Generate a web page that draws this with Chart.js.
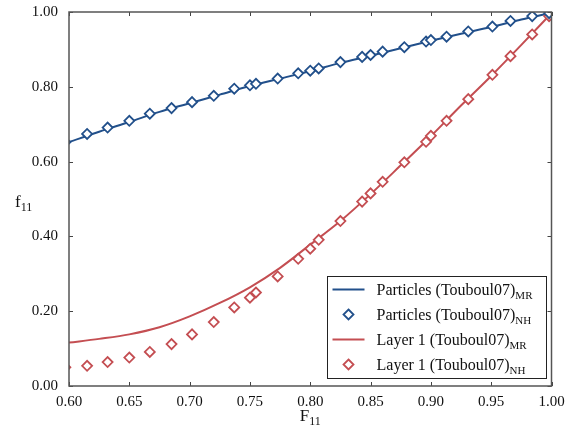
<!DOCTYPE html>
<html>
<head>
<meta charset="utf-8">
<script src="https://cdn.jsdelivr.net/npm/chart.js@4"></script>
<style>
  html, body { margin: 0; padding: 0; background: #fff; }
  canvas { display: block; }
</style>
</head>
<body>
<canvas id="chart" width="565" height="429"></canvas>
<script>
// F11 positions of the NH points (shared by both sets)
const nhF11 = [0.597, 0.615, 0.632, 0.650, 0.667, 0.685, 0.702, 0.720, 0.737, 0.750, 0.755, 0.773, 0.790, 0.800,
               0.807, 0.825, 0.843, 0.850, 0.860, 0.878, 0.896, 0.900, 0.913, 0.931, 0.951, 0.966, 0.984, 0.998]
const particlesNH = [0.652, 0.674, 0.691, 0.709, 0.728, 0.743, 0.759, 0.776, 0.795, 0.804, 0.808, 0.822, 0.836, 0.843,
                     0.849, 0.866, 0.880, 0.885, 0.894, 0.906, 0.921, 0.925, 0.934, 0.948, 0.961, 0.976, 0.989, 0.997]
const layer1NH = [0.050, 0.054, 0.064, 0.076, 0.091, 0.112, 0.138, 0.171, 0.210, 0.236, 0.250, 0.293, 0.340, 0.367,
                  0.391, 0.441, 0.493, 0.515, 0.546, 0.598, 0.653, 0.669, 0.709, 0.767, 0.832, 0.882, 0.940, 0.989]

// MR curves, read along F11
const mrF11 = [0.600, 0.625, 0.650, 0.675, 0.700, 0.725, 0.750, 0.775, 0.800, 0.825, 0.850, 0.875, 0.900, 0.925, 0.950, 0.975, 1.000]
const particlesMR = [0.652, 0.680, 0.706, 0.733, 0.756, 0.779, 0.802, 0.822, 0.842, 0.864, 0.883, 0.903, 0.923, 0.942, 0.960, 0.980, 0.998]
const layer1MR = [0.116, 0.126, 0.138, 0.157, 0.186, 0.222, 0.264, 0.316, 0.378, 0.441, 0.513, 0.590, 0.668, 0.750, 0.829, 0.912, 0.997]

const xTicks = [0.60, 0.65, 0.70, 0.75, 0.80, 0.85, 0.90, 0.95, 1.00]
const yTicks = [0.00, 0.20, 0.40, 0.60, 0.80, 1.00]

const blue = '#22508b'
const red = '#c44e52'
const serif = '"Liberation Serif", "DejaVu Serif", serif'

const toPoints = (xs, ys) => xs.map((x, i) => ({x: x, y: ys[i]}))

// main text followed by a subscript
function drawSub(ctx, main, sub, x, y, size, subSize, align) {
    ctx.font = size + 'px ' + serif
    let w1 = ctx.measureText(main).width
    ctx.font = subSize + 'px ' + serif
    let w2 = ctx.measureText(sub).width
    let start = align === 'center' ? x - (w1 + w2) / 2 : x
    ctx.textAlign = 'left'
    ctx.textBaseline = 'alphabetic'
    ctx.font = size + 'px ' + serif
    ctx.fillText(main, start, y)
    ctx.font = subSize + 'px ' + serif
    ctx.fillText(sub, start + w1, y + size * 0.25)
}

const legendItems = [
    {label: 'Particles (Touboul07)', sub: 'MR', color: blue, line: true},
    {label: 'Particles (Touboul07)', sub: 'NH', color: blue, line: false},
    {label: 'Layer 1 (Touboul07)', sub: 'MR', color: red, line: true},
    {label: 'Layer 1 (Touboul07)', sub: 'NH', color: red, line: false}
]

const framePlugin = {
    id: 'frame',
    afterDraw(chart) {
        const ctx = chart.ctx
        const a = chart.chartArea
        const xs = chart.scales.x
        const ys = chart.scales.y
        ctx.save()

        // inward ticks on all four sides
        ctx.strokeStyle = '#444'
        ctx.lineWidth = 1
        ctx.beginPath()
        xTicks.forEach(v => {
            let px = Math.round(xs.getPixelForValue(v)) + 0.5
            ctx.moveTo(px, a.bottom); ctx.lineTo(px, a.bottom - 4)
            ctx.moveTo(px, a.top); ctx.lineTo(px, a.top + 4)
        })
        yTicks.forEach(v => {
            let py = Math.round(ys.getPixelForValue(v)) + 0.5
            ctx.moveTo(a.left, py); ctx.lineTo(a.left + 4, py)
            ctx.moveTo(a.right, py); ctx.lineTo(a.right - 4, py)
        })
        ctx.stroke()

        // frame
        ctx.strokeStyle = '#555'
        ctx.lineWidth = 1.5
        ctx.strokeRect(a.left, a.top, a.right - a.left, a.bottom - a.top)

        // axis titles
        ctx.fillStyle = '#111'
        drawSub(ctx, 'F', '11', (a.left + a.right) / 2, 421, 17, 12, 'center')
        drawSub(ctx, 'f', '11', 15, 207, 17, 12, 'left')

        // legend
        let lw = 219, lh = 102
        let lx = a.right - 6 - lw
        let ly = a.bottom - 8 - lh
        ctx.fillStyle = '#fff'
        ctx.fillRect(lx, ly, lw, lh)
        ctx.strokeStyle = '#222'
        ctx.lineWidth = 1
        ctx.strokeRect(Math.round(lx) + 0.5, Math.round(ly) + 0.5, lw, lh)
        legendItems.forEach((item, i) => {
            let cy = ly + 13.5 + i * 25
            if (item.line) {
                ctx.strokeStyle = item.color
                ctx.lineWidth = 2
                ctx.beginPath()
                ctx.moveTo(lx + 6, cy)
                ctx.lineTo(lx + 38, cy)
                ctx.stroke()
            } else {
                ctx.strokeStyle = item.color
                ctx.lineWidth = 1.8
                ctx.beginPath()
                ctx.moveTo(lx + 22, cy - 5)
                ctx.lineTo(lx + 27, cy)
                ctx.lineTo(lx + 22, cy + 5)
                ctx.lineTo(lx + 17, cy)
                ctx.closePath()
                ctx.stroke()
            }
            ctx.fillStyle = '#111'
            drawSub(ctx, item.label, item.sub, lx + 50, cy + 5, 16, 11, 'left')
        })
        ctx.restore()
    }
}

Chart.defaults.font.family = serif
Chart.defaults.color = '#111'

new Chart(document.getElementById('chart'), {
    type: 'scatter',
    data: {
        datasets: [
            {label: 'Particles (Touboul07) MR', data: toPoints(mrF11, particlesMR), showLine: true,
             borderColor: blue, borderWidth: 2, pointRadius: 0, cubicInterpolationMode: 'monotone', clip: 0, order: 2},
            {label: 'Particles (Touboul07) NH', data: toPoints(nhF11, particlesNH), pointStyle: 'rectRot',
             pointRadius: 5, borderColor: blue, backgroundColor: '#fff', borderWidth: 1.8, clip: 0, order: 1},
            {label: 'Layer 1 (Touboul07) MR', data: toPoints(mrF11, layer1MR), showLine: true,
             borderColor: red, borderWidth: 2, pointRadius: 0, cubicInterpolationMode: 'monotone', clip: 0, order: 2},
            {label: 'Layer 1 (Touboul07) NH', data: toPoints(nhF11, layer1NH), pointStyle: 'rectRot',
             pointRadius: 5, borderColor: red, backgroundColor: '#fff', borderWidth: 1.8, clip: 0, order: 1}
        ]
    },
    options: {
        responsive: false,
        animation: false,
        devicePixelRatio: 1,
        layout: {padding: {top: 12, right: 13.5, left: 0, bottom: 0}},
        plugins: {legend: {display: false}, tooltip: {enabled: false}},
        scales: {
            x: {
                min: 0.6, max: 1.0,
                grid: {display: false, drawTicks: false},
                border: {display: false},
                afterBuildTicks: s => { s.ticks = xTicks.map(v => ({value: v})) },
                afterFit: s => { s.height = 43; s.paddingLeft = 0; s.paddingRight = 0 },
                ticks: {padding: 7, font: {size: 15}, maxRotation: 0, callback: v => v.toFixed(2)}
            },
            y: {
                min: 0, max: 1.0,
                grid: {display: false, drawTicks: false},
                border: {display: false},
                afterBuildTicks: s => { s.ticks = yTicks.map(v => ({value: v})) },
                afterFit: s => { s.width = 69; s.paddingTop = 0; s.paddingBottom = 0 },
                ticks: {padding: 11, font: {size: 15}, callback: v => v.toFixed(2)}
            }
        }
    },
    plugins: [framePlugin]
})
</script>
</body>
</html>
